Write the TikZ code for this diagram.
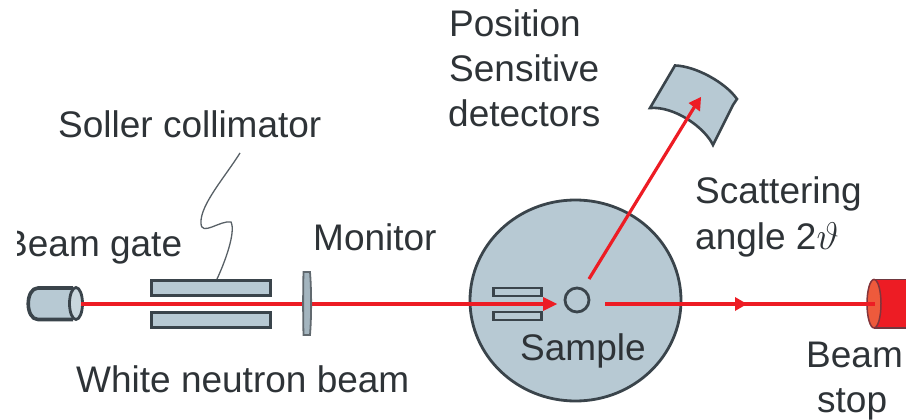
\documentclass[tikz,border=0pt]{standalone}
\usepackage{fontspec}
\usepackage{graphicx}
\setmainfont{Liberation Sans}
\usetikzlibrary{arrows.meta,shapes.geometric}
\definecolor{partfill}{HTML}{B7C9D3}
\definecolor{partline}{HTML}{3A444B}
\definecolor{beamred}{HTML}{ED1C24}
\definecolor{stopface}{HTML}{EE5A3C}
\definecolor{labelc}{HTML}{2E3337}
\tikzset{
  lbl/.style={anchor=base west,inner sep=0pt,text=labelc,font=\fontsize{37}{44}\selectfont},
  part/.style={draw=partline,fill=partfill,line width=3.6pt},
  thinpart/.style={draw=partline,fill=partfill,line width=2.8pt},
  beam/.style={draw=beamred,line width=3.2pt},
  tip/.style={fill=beamred,draw=none},
  lead/.style={draw=partline!85,line width=1.3pt}
}
\begin{document}
\begin{tikzpicture}[x=1pt,y=-1pt]
\useasboundingbox (0,0) rectangle (906,420);
% big disc
\node[ellipse,part,line width=2.8pt,minimum width=211pt,minimum height=201pt,inner sep=0pt] (disc) at (575.5,300.5) {};
% gate cylinder
\draw[part] (73,288) -- (38,288) .. controls (25,288) and (25,319.5) .. (38,319.5) -- (73,319.5);
\node[ellipse,draw=partline,fill=partfill!75!white,line width=2.8pt,minimum width=13pt,minimum height=32pt,inner sep=0pt] (gate) at (76,303.5) {};
% collimator
\node[part,minimum width=119pt,minimum height=15pt,inner sep=0pt] (collup) at (211,288) {};
\node[part,minimum width=119pt,minimum height=15pt,inner sep=0pt] (colldn) at (211,320) {};
% inner collimator
\node[thinpart,minimum width=48pt,minimum height=8pt,inner sep=0pt] (inup) at (517.5,292) {};
\node[thinpart,minimum width=48pt,minimum height=8pt,inner sep=0pt] (indn) at (517.5,316) {};
% sample
\node[circle,draw=partline,line width=2.8pt,minimum size=24pt,inner sep=0pt] (sample) at (577,300) {};
% beam stop
\fill[beamred] (874,279.5) rectangle (906,328);
\draw[draw=partline!70!beamred,line width=1.5pt] (906,279.5) -- (874,279.5) (874,328) -- (906,328);
\node[ellipse,draw=partline!60!beamred,fill=stopface,line width=1.5pt,minimum width=14pt,minimum height=48.5pt,inner sep=0pt] (stop) at (874,303.7) {};
% coordinates
\coordinate (b0) at (81,304);
\coordinate (b1) at (545,304);
\coordinate (tip1) at (557,304);
\coordinate (b2) at (605,304);
\coordinate (b3) at (875,304);
\coordinate (s0) at (589,279);
\coordinate (s1) at (695,106);
\coordinate (tip2) at (701,97);
% incoming beam
\draw[beam] (b0) -- (b1);
% monitor
\path[draw=partline!80,fill=partfill!85!partline,line width=1.8pt] (303.5,272) .. controls (303,290) and (303,317) .. (303.5,335) -- (310,335) .. controls (311.5,317) and (311.5,290) .. (310,272) -- cycle;
\node[inner sep=0pt,minimum size=0pt] (monitor) at (307,303.5) {};
\fill[tip] (tip1) -- (543,297) -- (543,311) -- cycle;
% outgoing beam
\draw[beam] (b2) -- (b3);
\fill[tip] (747,304) -- (735,297) -- (735,311) -- cycle;
% detector
\path[part,line width=2.6pt] (650,108) -- (675,65.5) .. controls (695,66) and (725,82) .. (737,99) -- (733,105) -- (713,145) .. controls (705,128) and (675,106) .. (650,108) -- cycle;
\draw[beam] (s0) -- (s1);
\fill[tip] (tip2) -- (688.5,103) -- (700,111.5) -- cycle;
% lead
\coordinate (lead0) at (240,153);
\coordinate (lead1) at (201,223);
\coordinate (lead2) at (217,279);
\draw[lead] (lead0) .. controls (225,177) and (200,205) .. (lead1)
  .. controls (201,237) and (220,220) .. (231,222)
  .. controls (236,232) and (225,262) .. (lead2);
% labels
\node[lbl] (tpos) at (449,37) {Position};
\node[lbl] (tsens) at (449,82) {Sensitive};
\node[lbl] (tdet) at (448,126) {detectors};
\node[lbl] (tsol) at (58,137) {Soller collimator};
\node[lbl] (tscat) at (695,203) {Scattering};
\node[lbl] (tang) at (695,249) {angle 2\scalebox{1.55}{$\vartheta$}};
\node[lbl] (tmon) at (313,250) {Monitor};
\begin{scope}
\clip (17,200) rectangle (300,270);
\node[lbl] (tgate) at (3,256) {Beam gate};
\end{scope}
\node[lbl] (tsam) at (520,360) {Sample};
\node[lbl] (twhite) at (76,392) {White neutron beam};
\node[lbl] (tbeam) at (806,367) {Beam};
\node[lbl] (tstop) at (817,412) {stop};
\end{tikzpicture}
\end{document}
